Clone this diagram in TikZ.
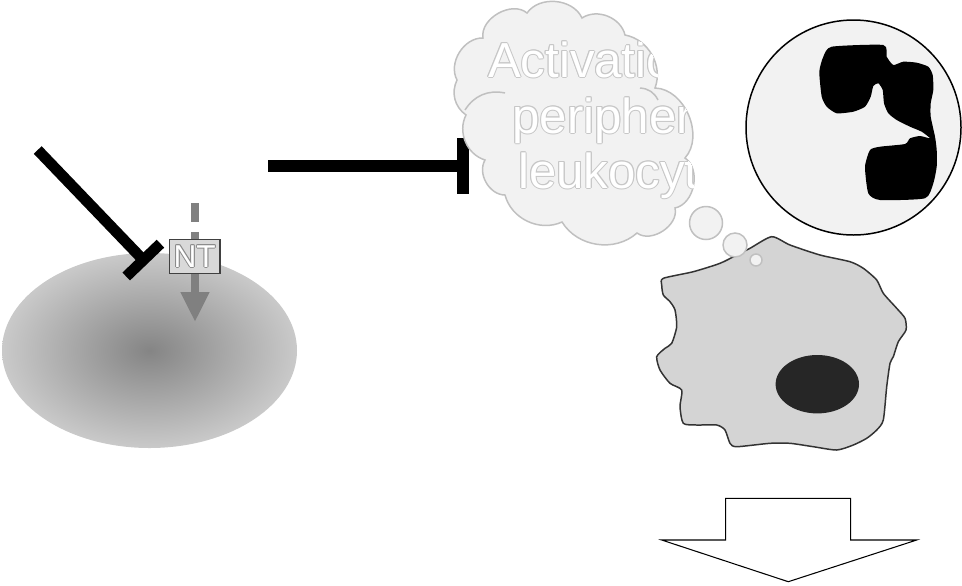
\documentclass[tikz,border=0pt]{standalone}
\usepackage{fontspec}
\setmainfont{Liberation Sans}
\usetikzlibrary{arrows.meta}
\definecolor{puffgray}{HTML}{F2F2F2}
\definecolor{puffline}{HTML}{C0C0C0}
\definecolor{cellgray}{HTML}{D4D4D4}
\definecolor{boxgray}{HTML}{D9D9D9}
\newcommand\bigtxt{\fontsize{28pt}{31.5pt}\selectfont}
\newcommand\smalltxt{\fontsize{18pt}{20pt}\selectfont}

\begin{document}
\begin{tikzpicture}[x=0.02cm,y=-0.02cm,
  puff/.style={draw=puffline,line width=0.85pt,fill=puffgray},
  label/.style={anchor=base,inner sep=0pt,font=\bigtxt},
]
\useasboundingbox (0,0) rectangle (962,585);
\shade[inner color=black!48,outer color=black!21] (149.5,350.5) ellipse [x radius=147.5,y radius=97.5];
\coordinate (flowtop) at (195,203);
\coordinate (flowtip) at (195,322);
\draw[black!50,line width=4.5pt,dash pattern=on 10.8pt off 5.7pt on 100pt,-{Triangle[length=17pt,width=15.3pt]}] (flowtop) -- (flowtip);
\node[draw=black!75,line width=0.75pt,fill=boxgray,minimum width=28.7pt,minimum height=19.3pt,inner sep=0pt] (nt) at (194.7,256.3) {};
\foreach \dx/\dy in {-1/0,1/0,0/-1,0/1,-0.7/-0.7,0.7/0.7,-0.7/0.7,0.7/-0.7}
  \node[text=black!45,font=\smalltxt,inner sep=0pt] at ([shift={(\dx,\dy)}]nt.center) {NT};
\node[text=white,font=\smalltxt,inner sep=0pt] at (nt.center) {NT};
\coordinate (sigA) at (37.7,150);
\coordinate (sigAend) at (147.1,264);
\draw[line width=6.2pt,-{Bar[width=27pt]}] (sigA) -- (sigAend);
\coordinate (sigB) at (268.3,166);
\coordinate (sigBend) at (469.3,166);
\draw[line width=6.8pt,-{Bar[width=32.3pt]}] (sigB) -- (sigBend);
\path[save path=\puffpath] (457,80) to[bend left=60] (483,38) to[bend left=70] (527,13)
  to[bend left=60] (582,18) to[bend left=55] (625,35) to[bend left=50] (655,88)
  to[bend left=65] (685,158) to[bend left=67] (675,208) to[bend left=70] (637,233)
  to[bend left=50] (562,222) to[bend left=50] (505,195) to[bend left=60] (485,160)
  to[bend left=50] (466,115) to[bend left=40] (457,80) -- cycle;
\path[puff,use path=\puffpath];
\draw[puffline,line width=0.85pt] (465,110) to[bend left=35] (505,93);
\draw[puffline,line width=0.85pt] (640,88) to[bend left=30] (658,100);
\begin{scope}
\clip[use path=\puffpath];
\foreach \txt/\yy in {Activation of/77,peripheral/133,leukocyte/188}{
  \foreach \dx/\dy in {-1/0,1/0,0/-1,0/1,-0.7/-0.7,0.7/0.7,-0.7/0.7,0.7/-0.7}
    \node[label,text=black!22] at (622+\dx,\yy+\dy) {\txt};
  \node[label,text=white] at (622,\yy) {\txt};
}
\end{scope}
\draw[black!80,line width=0.85pt,fill=cellgray] plot[smooth cycle,tension=0.4] coordinates {
  (663.3,278.3) (693.3,271.7) (720,263.3) (736.7,255) (750,248.3) (771.7,236.7)
  (790,245) (820,255) (850,261.7) (863.3,268.3) (876.7,280) (883.3,293.3)
  (896.7,308.3) (905,318.3) (906,330) (898.3,341.7) (893.3,356.7) (890,363.3)
  (886.7,386.7) (883.3,420) (876.7,430) (866.7,438.3) (853.3,445) (836.7,450)
  (813.3,446.7) (790,443.3) (770,443.3) (736.7,446.7) (730,443.3) (725,430)
  (716.7,425) (696.7,425) (683.3,423.3) (680,406.7) (681.7,390) (670,383.3)
  (660,370) (656.7,356.7) (665,348.3) (671.7,343.3) (676.7,326.7) (675,310)
  (670,301.7) (663.3,295) (661.7,285)};
\fill[black!85] (817.3,384.2) ellipse [x radius=41.7,y radius=29.2];
\path[puff] (706,223) circle (16.5);
\path[puff] (735,245) circle (12);
\path[puff] (756,260) circle (6);
\draw[line width=0.85pt,fill=puffgray] (853.5,127.5) circle (107.5);
\fill plot[smooth cycle,tension=0.35] coordinates {
  (831.7,46.7) (883.3,45) (886.7,56.7) (893.3,65) (903.3,61.7) (916.7,62.7)
  (928.3,66.7) (932.7,75) (933.3,90) (930.7,103.3) (930.7,116.7) (935,136.7)
  (936.7,150) (936.7,166.7) (933.3,183.3) (925,198.3) (880,200) (868.3,193.3)
  (865,166.7) (870,150) (880,146.7) (905,144) (910,138.3) (920,136) (930,138.3)
  (921.7,131.7) (910,126.7) (896.7,120) (888.3,113.3) (884,103.3) (882.7,90)
  (878.3,83.3) (873.3,86) (870.7,96.7) (865,106.7) (853.3,111.7) (836.7,113.3)
  (826.7,106.7) (821.7,96.7) (819.3,71.7) (823.3,56.7)};
\draw[line width=0.6pt,fill=white] (725.7,498.3) -- (850.7,498.3) -- (850.7,540) -- (916.7,540)
  -- (788.3,581.7) -- (661.7,540) -- (725.7,540) -- cycle;
\end{tikzpicture}
\end{document}
